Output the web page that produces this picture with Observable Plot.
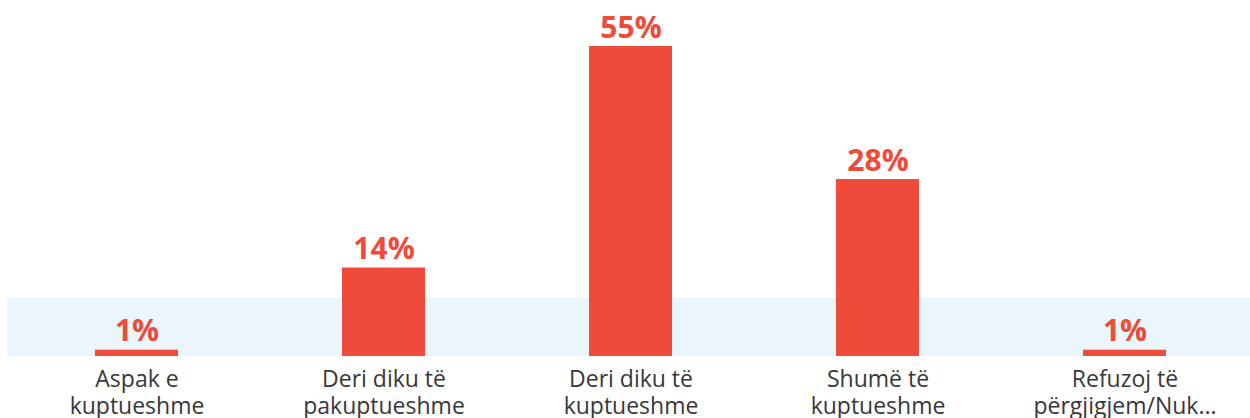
<!DOCTYPE html>
<html>
<head>
<meta charset="utf-8">
<script src="https://cdn.jsdelivr.net/npm/d3@7"></script>
<script src="https://cdn.jsdelivr.net/npm/@observablehq/plot@0.6"></script>
<style>
  html, body { margin: 0; padding: 0; background: #fff; }
  svg { display: block; }
</style>
</head>
<body>
<div id="chart"></div>
<script>
const categories = [
  "Aspak e\nkuptueshme",
  "Deri diku të\npakuptueshme",
  "Deri diku të\nkuptueshme",
  "Shumë të\nkuptueshme",
  "Refuzoj të\npërgjigjem/Nuk..."
];
const values = [1, 14, 55, 28, 1];
const valueLabels = ["1%", "14%", "55%", "28%", "1%"];
const band = [{y1: 0, y2: 9.2}];

const data = categories.map((c, i) => ({cat: c, v: values[i], label: valueLabels[i]}));

const chart = Plot.plot({
  width: 1250,
  height: 418,
  marginTop: 46,
  marginBottom: 62,
  marginLeft: 11,
  marginRight: 0,
  style: {fontFamily: "'Open Sans', sans-serif", background: "#fff"},
  x: {domain: categories, paddingInner: 0.665, paddingOuter: 0.333, label: null},
  y: {domain: [0, 49.05], clamp: true, axis: null},
  marks: [
    Plot.rectY(band, {y1: "y1", y2: "y2", fill: "#EAF6FC", insetLeft: -4}),
    Plot.barY(data, {x: "cat", y: "v", fill: "#EE4B3A"}),
    Plot.text(data, {x: "cat", y: "v", text: "label", lineAnchor: "bottom", dy: -9, fill: "#EE4B3A",
      fontSize: 30, fontWeight: "bold"}),
    Plot.axisX({tickSize: 0, tickPadding: 11, fontSize: 23, fill: "#383838", lineHeight: 1.174,
      textAnchor: "middle", lineAnchor: "top"})
  ]
});
document.getElementById("chart").appendChild(chart);
</script>
</body>
</html>
